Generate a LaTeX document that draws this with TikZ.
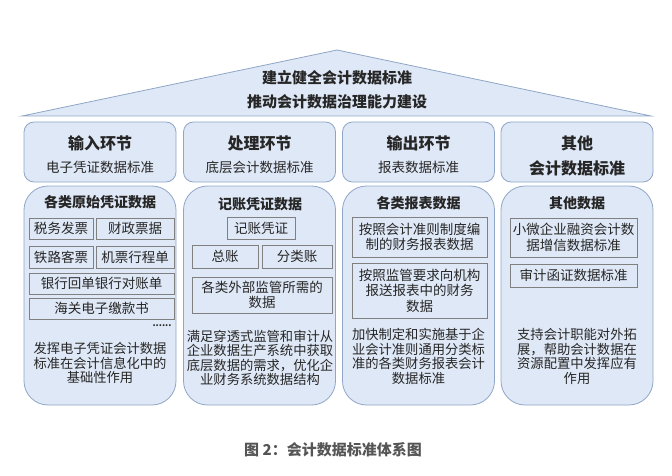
\documentclass[tikz,border=0pt]{standalone}
\usepackage{fontspec}
\setmainfont{Noto Sans CJK SC}
\definecolor{fillc}{HTML}{DFE8F6}
\definecolor{bordc}{HTML}{8FA6C6}
\definecolor{iborder}{HTML}{808080}
\definecolor{txtc}{HTML}{262626}
\definecolor{capc}{HTML}{555555}
\tikzset{
  hdr/.style={draw=bordc, fill=fillc, rounded corners=10pt, line width=0.8pt, minimum width=152pt, minimum height=60pt, inner sep=0pt},
  lowbox/.style={draw=bordc, fill=fillc, rounded corners=24pt, line width=0.8pt, minimum width=152pt, minimum height=219pt, inner sep=0pt},
  ibox/.style={draw=iborder, fill=fillc, line width=0.8pt, inner sep=0pt, align=center, text=txtc, font=\fontsize{13.5}{16}\selectfont},
  txt/.style={align=center, text=txtc, inner sep=0pt, font=\fontsize{13.3}{14.6}\selectfont},
  ttl/.style={text=txtc, inner sep=0pt, font=\bfseries\fontsize{14}{16}\selectfont},
  htl/.style={text=txtc, inner sep=0pt, font=\bfseries\fontsize{16}{18}\selectfont},
  hsub/.style={text=txtc, inner sep=0pt, font=\fontsize{13.5}{16}\selectfont},
  toptxt/.style={text=txtc, inner sep=0pt, font=\bfseries\fontsize{15}{18}\selectfont},
}
\begin{document}
\begin{tikzpicture}[x=1pt,y=-1pt]
\useasboundingbox (0,0) rectangle (672,476);
% roof
\coordinate (apex) at (337,50);
\coordinate (bl) at (22,116);
\coordinate (br) at (651,116);
\draw[draw=bordc, fill=fillc, line width=0.8pt] (bl) -- (apex) -- (br) -- cycle;
\node[toptxt] (roof1) at (337,78) {建立健全会计数据标准};
\node[toptxt] (roof2) at (337,102) {推动会计数据治理能力建设};

% header boxes
\node[hdr] (h1) at (100,152) {};
\node[hdr] (h2) at (259.5,152) {};
\node[hdr] (h3) at (418.5,152) {};
\node[hdr] (h4) at (577,152) {};
\node[htl] (h1t) at (100,143) {输入环节};
\node[hsub] (h1s) at (100,167) {电子凭证数据标准};
\node[htl] (h2t) at (259.5,143) {处理环节};
\node[hsub] (h2s) at (259.5,167) {底层会计数据标准};
\node[htl] (h3t) at (418.5,143) {输出环节};
\node[hsub] (h3s) at (418.5,167) {报表数据标准};
\node[htl] (h4t) at (577,143) {其他};
\node[htl] (h4s) at (577,168) {会计数据标准};

% lower boxes
\node[lowbox] (l1) at (100,295.5) {};
\node[lowbox] (l2) at (259.5,295.5) {};
\node[lowbox] (l3) at (418.5,295.5) {};
\node[lowbox] (l4) at (577,295.5) {};

% column 1
\node[ttl] (c1t) at (100,202) {各类原始凭证数据};
\node[ibox, minimum width=64pt, minimum height=21pt] (c1a) at (61,228.5) {税务发票};
\node[ibox, minimum width=78pt, minimum height=21pt] (c1b) at (135,228.5) {财政票据};
\node[ibox, minimum width=64pt, minimum height=22pt] (c1c) at (61,257) {铁路客票};
\node[ibox, minimum width=78pt, minimum height=22pt] (c1d) at (135,257) {机票行程单};
\node[ibox, minimum width=145pt, minimum height=21pt] (c1e) at (101.5,283.5) {银行回单银行对账单};
\node[ibox, minimum width=145pt, minimum height=21pt] (c1f) at (101.5,308.5) {海关电子缴款书};
\node[text=txtc, inner sep=0pt, font=\bfseries\fontsize{9}{10}\selectfont] (c1dots) at (162,326) {......};
\node[txt] (c1x) at (100,363) {发挥电子凭证会计数据\\标准在会计信息化中的\\基础性作用};

% column 2
\node[ttl] (c2t) at (260,204) {记账凭证数据};
\node[ibox, minimum width=68pt, minimum height=22pt] (c2a) at (261,228) {记账凭证};
\node[ibox, minimum width=66pt, minimum height=23pt] (c2b) at (225,256.5) {总账};
\node[ibox, minimum width=70pt, minimum height=23pt] (c2c) at (297,256.5) {分类账};
\node[ibox, minimum width=140pt, minimum height=36pt, font=\fontsize{13.5}{15.5}\selectfont] (c2d) at (262,295) {各类外部监管所需的\\数据};
\node[txt] (c2x) at (260,358) {满足穿透式监管和审计从\\企业数据生产系统中获取\\底层数据的需求，优化企\\业财务系统数据结构};

% column 3
\node[ttl] (c3t) at (418.5,203) {各类报表数据};
\node[ibox, minimum width=135pt, minimum height=40pt, font=\fontsize{13.5}{15.5}\selectfont] (c3a) at (419.5,237) {按照会计准则制度编\\制的财务报表数据};
\node[ibox, minimum width=135pt, minimum height=55pt, font=\fontsize{13.5}{15.5}\selectfont] (c3b) at (419.5,290.5) {按照监管要求向机构\\报送报表中的财务\\数据};
\node[txt] (c3x) at (418.5,356.5) {加快制定和实施基于企\\业会计准则通用分类标\\准的各类财务报表会计\\数据标准};

% column 4
\node[ttl] (c4t) at (577,203) {其他数据};
\node[ibox, minimum width=127pt, minimum height=39pt, font=\fontsize{13.5}{15.5}\selectfont] (c4a) at (573.5,237.5) {小微企业融资会计数\\据增信数据标准};
\node[ibox, minimum width=127pt, minimum height=23pt] (c4b) at (573.5,275.5) {审计函证数据标准};
\node[txt] (c4x) at (577,356.5) {支持会计职能对外拓\\展，帮助会计数据在\\资源配置中发挥应有\\作用};

% caption
\node[text=capc, inner sep=0pt, font=\bfseries\fontsize{15}{17}\selectfont] (cap) at (333,450) {图 2：会计数据标准体系图};
\end{tikzpicture}
\end{document}
